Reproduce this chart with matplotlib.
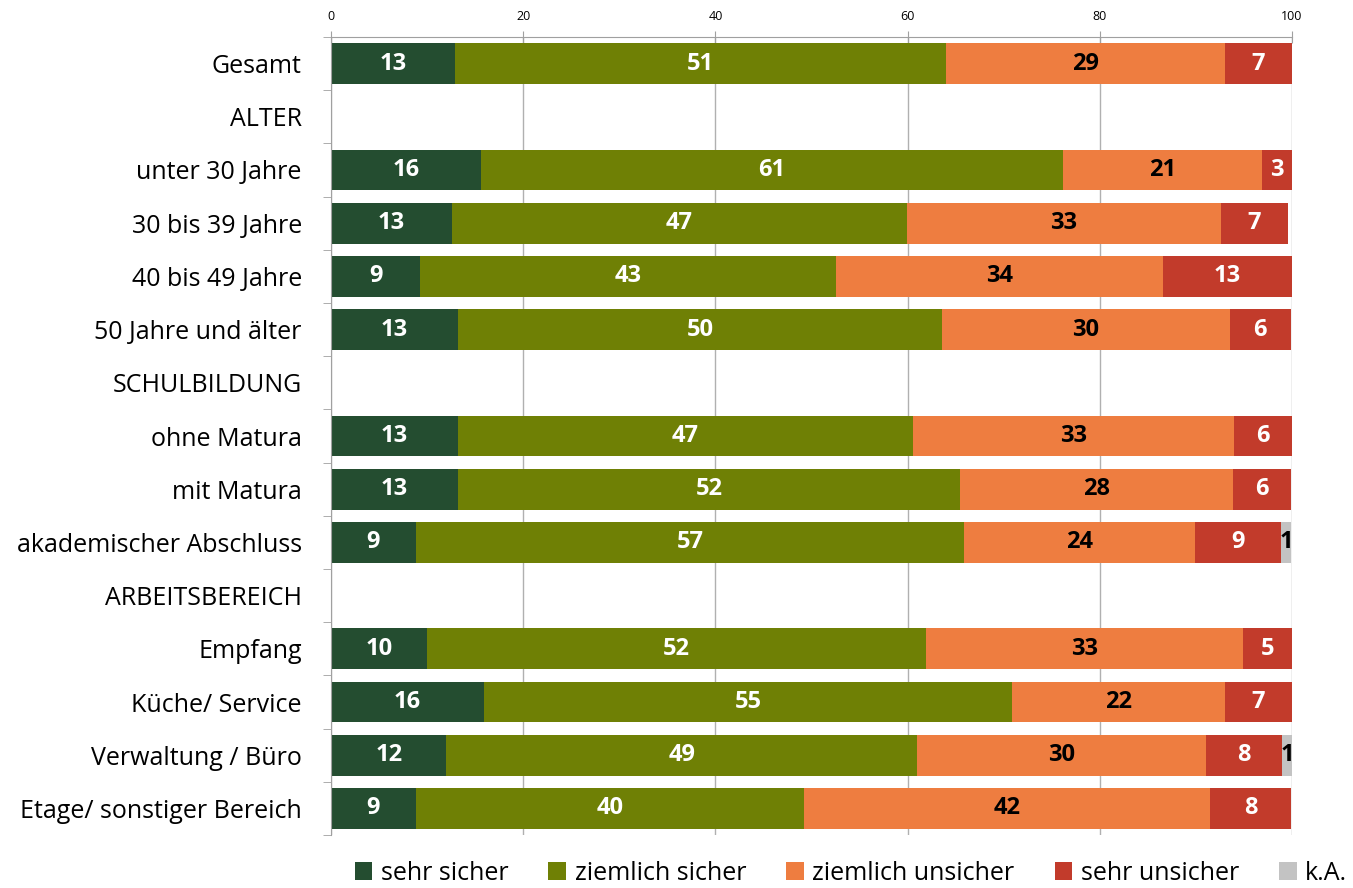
import numpy as np
import matplotlib.pyplot as plt
from matplotlib.patches import Patch

plt.rcParams['font.family'] = ['Open Sans', 'DejaVu Sans']

categories = ["Gesamt", "ALTER", "unter 30 Jahre", "30 bis 39 Jahre", "40 bis 49 Jahre",
              "50 Jahre und älter", "SCHULBILDUNG", "ohne Matura", "mit Matura",
              "akademischer Abschluss", "ARBEITSBEREICH", "Empfang", "Küche/ Service",
              "Verwaltung / Büro", "Etage/ sonstiger Bereich"]
series = ["sehr sicher", "ziemlich sicher", "ziemlich unsicher", "sehr unsicher", "k.A."]

# percentages per row (header rows are empty)
sehr_sicher = [12.9, 0, 15.6, 12.6, 9.3, 13.2, 0, 13.2, 13.2, 8.8, 0, 10.0, 15.9, 12.0, 8.8]
ziemlich_sicher = [51.1, 0, 60.6, 47.3, 43.2, 50.4, 0, 47.4, 52.3, 57.1, 0, 51.9, 55.0, 49.0, 40.4]
ziemlich_unsicher = [29.0, 0, 20.7, 32.7, 34.1, 29.9, 0, 33.4, 28.4, 24.0, 0, 33.0, 22.1, 30.0, 42.3]
sehr_unsicher = [7.0, 0, 3.1, 7.0, 13.4, 6.4, 0, 6.0, 6.0, 9.0, 0, 5.1, 7.0, 8.0, 8.4]
k_a = [0, 0, 0, 0, 0, 0, 0, 0, 0, 1.0, 0, 0, 0, 1.0, 0]

colors = ["#244d30", "#6f8005", "#ee7d40", "#c23b2b", "#c3c3c3"]
text_colors = ["white", "white", "black", "white", "black"]

values = [sehr_sicher, ziemlich_sicher, ziemlich_unsicher, sehr_unsicher, k_a]

fig = plt.figure(figsize=(13.53, 8.88), dpi=100)
ax = fig.add_axes([331 / 1353, 1 - 835 / 888, (1292 - 331) / 1353, (835 - 37) / 888])

y = np.arange(len(categories))
left = np.zeros(len(categories))
for vals, col, tcol, name in zip(values, colors, text_colors, series):
    vals = np.array(vals)
    ax.barh(y, vals, left=left, height=0.77, color=col, label=name, zorder=2)
    for i, v in enumerate(vals):
        if v > 0:
            ax.text(left[i] + v / 2, y[i], f"{v:.0f}", ha="center", va="center",
                    color=tcol, fontsize=17, fontweight="bold", zorder=3)
    left += vals

ax.set_xlim(0, 100)
ax.set_ylim(len(categories) - 0.5, -0.5)
ax.set_xticks(np.arange(0, 101, 20))
ax.xaxis.tick_top()
ax.tick_params(axis="x", labelsize=9, direction="inout", length=8, color="#a0a0a0", pad=6)
ax.grid(axis="x", color="#b0b0b0", linewidth=1, zorder=0)
ax.set_yticks(y)
ax.set_yticklabels(categories, fontsize=18)
ax.tick_params(axis="y", length=0, pad=21)
ax.set_yticks(np.arange(-0.5, len(categories) + 0.5, 1), minor=True)
ax.tick_params(axis="y", which="minor", length=6, color="#a0a0a0")
for s in ["right", "bottom"]:
    ax.spines[s].set_visible(False)
ax.spines["left"].set_color("#a0a0a0")
ax.spines["top"].set_color("#a0a0a0")

handles = [Patch(facecolor=c, edgecolor="none") for c in colors]
fig.legend(handles, series, loc="center", bbox_to_anchor=(851 / 1353, 1 - 873 / 888),
           ncol=5, frameon=False, fontsize=18, handlelength=0.7, handleheight=0.7,
           handletextpad=0.35, columnspacing=1.6, borderpad=0)

fig.savefig("out.png", dpi=100)
